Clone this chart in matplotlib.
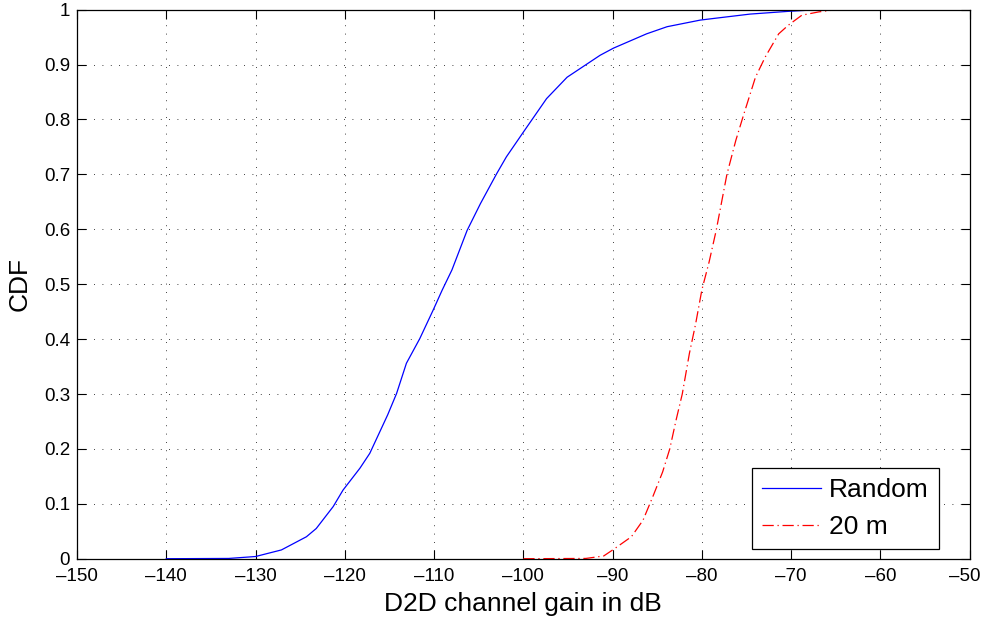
import matplotlib
matplotlib.use("Agg")
import matplotlib.pyplot as plt
from matplotlib.transforms import ScaledTranslation

plt.rcParams['font.family'] = ['Liberation Sans', 'DejaVu Sans']

random_x = [-140, -133, -130, -127.1, -124.3, -123.2, -121.3, -120.2, -118.3, -117.2,
            -115.2, -114.2, -113.1, -111.6, -110.1, -109.1, -108.0, -106.3, -104.8,
            -103.0, -101.9, -100, -97.4, -95.1, -91.4, -89.9, -86.2, -83.9, -80.2,
            -78.7, -74.6, -70.3, -67, -62]
random_y = [0, 0.0005, 0.004, 0.016, 0.04, 0.055, 0.095, 0.125, 0.165, 0.192,
            0.262, 0.301, 0.356, 0.401, 0.453, 0.489, 0.526, 0.598, 0.647,
            0.701, 0.732, 0.777, 0.838, 0.877, 0.917, 0.93, 0.956, 0.969, 0.981,
            0.984, 0.992, 0.997, 1.0, 1.0]

m20_x = [-100, -93, -91, -89.9, -87.9, -86.6, -85.5, -84.4, -83.6, -82.9, -82.2,
         -81.4, -80.7, -80.0, -79.2, -78.4, -77.2, -76.2, -75.3, -74.0, -72.9,
         -71.4, -70.3, -68.8, -66.9, -65, -61]
m20_y = [0, 0.0005, 0.005, 0.017, 0.04, 0.07, 0.113, 0.158, 0.20, 0.252, 0.30,
         0.374, 0.428, 0.49, 0.54, 0.598, 0.70, 0.762, 0.81, 0.877, 0.914,
         0.956, 0.972, 0.99, 0.996, 1.0, 1.0]

x_ticks = [-150, -140, -130, -120, -110, -100, -90, -80, -70, -60, -50]
y_ticks = [0, 0.1, 0.2, 0.3, 0.4, 0.5, 0.6, 0.7, 0.8, 0.9, 1]
y_ticklabels = ['0', '0.1', '0.2', '0.3', '0.4', '0.5', '0.6', '0.7', '0.8', '0.9', '1']

fig = plt.figure(figsize=(9.82, 6.21), dpi=100)
ax = fig.add_axes([0.0784, 0.1003, 0.9091, 0.8841])

ax.plot(random_x, random_y, color='#0000ff', lw=0.9, label='Random')
ax.plot(m20_x, m20_y, color='#ff0000', lw=0.9, linestyle=(0, (9, 3, 1, 3)), label='20 m')

ax.set_xlim(-150, -50)
ax.set_ylim(0, 1)
ax.set_xticks(x_ticks)
ax.set_xticklabels(['\u2013' + str(abs(v)) for v in x_ticks])
ax.set_yticks(y_ticks)
ax.set_yticklabels(y_ticklabels)

ax.grid(True, color='black', linestyle=(0, (1, 9)), linewidth=0.6)
ax.tick_params(direction='in', length=6.4, width=0.8, top=True, right=True,
               labelsize=13.5, colors='black')
ax.tick_params(axis='x', pad=6.5)
ax.tick_params(axis='y', pad=5)
for s in ax.spines.values():
    s.set_linewidth(0.9)

# keep the last x tick label inside the figure, as in the reference
last = ax.get_xticklabels()[-1]
last.set_transform(last.get_transform() + ScaledTranslation(-5 / 100, 0, fig.dpi_scale_trans))

ax.set_xlabel('D2D channel gain in dB', fontsize=19, labelpad=5)
ax.set_ylabel('CDF', fontsize=19, labelpad=9)

leg = ax.legend(loc='lower right', fontsize=19, frameon=True, fancybox=False,
                edgecolor='black', framealpha=1, borderpad=0.38, labelspacing=0.5,
                handlelength=2.25, handletextpad=0.3, borderaxespad=0.0,
                bbox_to_anchor=(0.9656, 0.0171))
leg.get_frame().set_linewidth(0.9)

fig.savefig('out.png', dpi=100)
